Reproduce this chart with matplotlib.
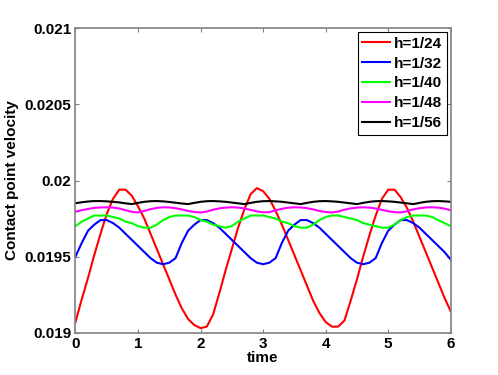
import numpy as np
from matplotlib import pyplot as plt

time = np.round(np.arange(0, 6.01, 0.1), 2)

h24 = [0.01907, 0.01922, 0.01936, 0.01951, 0.01965, 0.01978, 0.01988, 0.01994, 0.01994, 0.01990,
       0.01983, 0.01975, 0.01965, 0.01955, 0.01945, 0.01935, 0.01925, 0.01916, 0.01909, 0.01905,
       0.01903, 0.01904, 0.01912, 0.01926, 0.01941, 0.01955, 0.01969, 0.01981, 0.01991, 0.01995,
       0.01993, 0.01988, 0.01980, 0.01971, 0.01961, 0.01951, 0.01941, 0.01931, 0.01921, 0.01913,
       0.01907, 0.01904, 0.01904, 0.01908, 0.01921, 0.01935, 0.01950, 0.01964, 0.01977, 0.01988,
       0.01994, 0.01994, 0.01989, 0.01982, 0.01973, 0.01963, 0.01953, 0.01943, 0.01933, 0.01923,
       0.01914]
h32 = [0.01950, 0.01959, 0.01967, 0.01971, 0.01974, 0.01974, 0.01972, 0.01969, 0.01965, 0.01961,
       0.01957, 0.01953, 0.01949, 0.01946, 0.01945, 0.01946, 0.01949, 0.01959, 0.01967, 0.01971,
       0.01974, 0.01974, 0.01972, 0.01969, 0.01965, 0.01961, 0.01957, 0.01953, 0.01949, 0.01946,
       0.01945, 0.01946, 0.01949, 0.01959, 0.01967, 0.01971, 0.01974, 0.01974, 0.01972, 0.01969,
       0.01965, 0.01961, 0.01957, 0.01953, 0.01949, 0.01946, 0.01945, 0.01946, 0.01949, 0.01959,
       0.01967, 0.01971, 0.01974, 0.01974, 0.01972, 0.01969, 0.01965, 0.01961, 0.01957, 0.01953,
       0.01948]
h40 = [0.01970, 0.01973, 0.01975, 0.01977, 0.01977, 0.01977, 0.01976, 0.01975, 0.01973, 0.01972,
       0.01970, 0.01969, 0.01969, 0.01971, 0.01974, 0.01976, 0.01977, 0.01977, 0.01977, 0.01976,
       0.01974, 0.01973, 0.01971, 0.01970, 0.01969, 0.01970, 0.01973, 0.01975, 0.01977, 0.01977,
       0.01977, 0.01976, 0.01975, 0.01973, 0.01972, 0.01970, 0.01969, 0.01969, 0.01971, 0.01974,
       0.01976, 0.01977, 0.01977, 0.01976, 0.01975, 0.01974, 0.01972, 0.01971, 0.01970, 0.01969,
       0.01969, 0.01971, 0.01974, 0.01976, 0.01977, 0.01977, 0.01977, 0.01976, 0.01974, 0.01972,
       0.01970]
h48 = [0.019795, 0.019805, 0.019813, 0.019820, 0.019823, 0.019824, 0.019822, 0.019816, 0.019805, 0.019794,
       0.019790, 0.019800, 0.019812, 0.019820, 0.019824, 0.019823, 0.019818, 0.019810, 0.019800, 0.019793,
       0.019790, 0.019796, 0.019808, 0.019817, 0.019822, 0.019824, 0.019822, 0.019816, 0.019807, 0.019797,
       0.019791, 0.019792, 0.019804, 0.019814, 0.019821, 0.019824, 0.019823, 0.019818, 0.019810, 0.019800,
       0.019793, 0.019790, 0.019796, 0.019808, 0.019817, 0.019822, 0.019824, 0.019822, 0.019816, 0.019807,
       0.019798, 0.019792, 0.019790, 0.019798, 0.019810, 0.019818, 0.019823, 0.019824, 0.019822, 0.019815,
       0.019805]
h56 = [0.019851, 0.019857, 0.019862, 0.019865, 0.019865, 0.019863, 0.019860, 0.019856, 0.019850, 0.019845,
       0.019853, 0.019860, 0.019864, 0.019865, 0.019863, 0.019859, 0.019854, 0.019849, 0.019845, 0.019853,
       0.019860, 0.019864, 0.019865, 0.019863, 0.019860, 0.019855, 0.019850, 0.019845, 0.019853, 0.019860,
       0.019864, 0.019865, 0.019863, 0.019860, 0.019855, 0.019850, 0.019845, 0.019853, 0.019860, 0.019864,
       0.019865, 0.019863, 0.019860, 0.019855, 0.019850, 0.019845, 0.019853, 0.019860, 0.019864, 0.019865,
       0.019863, 0.019860, 0.019855, 0.019850, 0.019845, 0.019853, 0.019860, 0.019864, 0.019865, 0.019863,
       0.019860]

labels = ["h=1/24", "h=1/32", "h=1/40", "h=1/48", "h=1/56"]
colors = ["#ff0000", "#0000ff", "#00ff00", "#ff00ff", "#000000"]
yticks = [0.019, 0.0195, 0.02, 0.0205, 0.021]
ytick_labels = ["0.019", "0.0195", "0.02", "0.0205", "0.021"]

plt.rcParams["font.family"] = ["Liberation Sans", "DejaVu Sans"]
plt.rcParams["font.weight"] = "bold"
plt.rcParams["font.size"] = 11

fig = plt.figure(figsize=(4.98, 3.75), dpi=100)
ax = fig.add_axes([0.1516, 0.1128, 0.7535, 0.8117])

for y, lab, c in zip([h24, h32, h40, h48, h56], labels, colors):
    ax.plot(time, y, color=c, lw=1.5, label=lab)

ax.set_xlim(0, 6)
ax.set_ylim(0.019, 0.021)
ax.set_xticks(range(7))
ax.set_yticks(yticks)
ax.set_yticklabels(ytick_labels)
ax.tick_params(direction="in", length=3, width=0.8, color="#808080",
               top=True, right=True, pad=3, labelsize=11)
for s in ax.spines.values():
    s.set_color("#808080")
    s.set_linewidth(1.2)

ax.set_xlabel("time", fontweight="bold", labelpad=0)
ax.set_ylabel("Contact point velocity", fontweight="bold", labelpad=4)

leg = ax.legend(loc="upper right", fancybox=False, framealpha=1, edgecolor="black",
                borderaxespad=0.25, borderpad=0.3, labelspacing=0.38,
                handlelength=1.8, handletextpad=0.3, prop={"weight": "bold", "size": 11})
leg.get_frame().set_linewidth(0.8)

fig.savefig("out.png", dpi=100)
